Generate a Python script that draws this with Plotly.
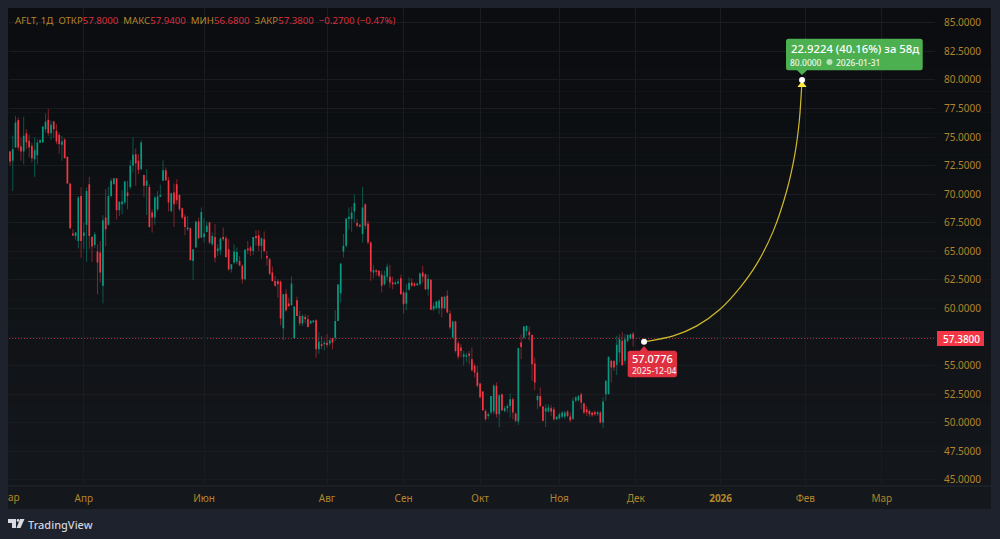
import plotly.graph_objects as go

directions = ("RGGRRGRRRG" "GGGGRGRRRG" "RRRRGGRGGR" "RGRRGRGGGR" "GGGRGGRRGR" "GRRGGGGRRG"
              "RRRRRGRGGR" "GGGRGRGGRR" "RGGGRRGRRG" "RRGRRRRRRR" "GRRGGRRGRR" "GGRGRGRGRG"
              "GGGGGGGRRG" "RRRGRRRGGR" "RGGRRGGRRG" "GRRGRGGGRG" "RRGRRRGGRR" "RRRRRGGGRG"
              "RGGGRRGRGG" "RRRGRRGGRR" "GGGGRRGGGR" "RRRRRGRGGG" "RRGGRGGGR")

highs = [73.79,75.11,76.86,76.71,74.96,76.77,75.69,75.25,74.52,74.96,
74.81,74.81,75.98,77.06,77.47,76.42,76.42,76.13,75.40,75.11,
74.90,73.27,70.93,66.94,66.70,69.85,70.64,67.52,70.58,71.52,
66.35,66.70,65.62,65.91,68.16,70.44,70.64,71.40,71.40,71.40,
69.36,70.35,71.17,71.17,72.98,74.96,74.00,73.50,74.73,71.69,
72.19,70.88,68.69,69.85,70.29,70.82,72.98,72.33,71.52,70.15,
70.93,71.31,70.00,68.83,68.25,68.10,67.08,65.18,67.61,67.96,
68.83,67.90,67.61,67.61,66.64,67.37,65.62,66.21,67.08,66.35,
66.06,63.87,65.62,65.33,64.60,63.87,65.18,65.91,65.48,66.26,
66.85,66.85,66.21,66.73,65.04,64.45,63.67,62.85,62.56,62.47,
61.25,61.68,60.95,62.79,60.17,61.04,59.79,59.50,59.50,59.44,
58.97,58.97,59.06,57.95,57.60,57.22,57.74,57.31,57.39,59.87,
62.15,63.94,66.51,67.88,68.84,68.90,69.95,67.82,67.38,70.65,
69.19,67.67,65.86,63.79,63.44,63.35,63.30,63.30,63.94,63.82,
62.77,62.42,62.57,62.95,61.55,62.13,62.71,62.65,62.27,62.27,
63.15,63.73,63.06,63.00,62.57,60.52,60.67,60.82,61.02,61.11,
61.60,59.85,58.92,58.92,57.17,56.88,56.29,56.15,56.29,56.58,
55.18,54.98,53.49,52.79,51.19,50.89,52.35,53.37,53.52,52.50,
52.56,51.48,51.62,52.56,52.21,50.89,56.58,57.75,58.48,58.48,
58.42,57.75,55.71,52.50,53.08,51.48,51.62,51.62,51.54,51.39,
50.60,50.89,51.04,51.04,51.10,50.89,52.21,52.35,52.44,52.65,
51.77,51.48,51.19,50.98,51.10,51.04,51.04,52.21,53.73,55.77,
55.48,55.42,57.61,57.75,57.96,57.75,57.75,57.81,57.94]

body_tops = [73.73,73.94,76.27,76.48,74.17,75.11,75.31,74.67,74.23,73.85,
74.52,74.73,75.89,76.33,76.51,76.07,76.36,75.54,75.19,74.61,
74.79,73.27,70.93,66.56,66.64,69.71,69.85,66.64,70.29,70.88,
66.26,66.50,64.98,64.89,67.72,67.96,69.85,71.17,71.40,71.40,
69.33,69.36,71.11,70.15,72.48,73.44,73.50,72.92,74.52,71.69,
71.17,70.64,68.39,69.71,69.80,69.94,72.10,72.10,71.22,70.09,
70.15,70.88,69.94,68.77,68.02,67.08,67.02,65.18,67.61,67.61,
68.45,66.56,67.23,67.52,66.35,66.26,65.24,66.12,66.26,66.15,
65.18,63.87,64.98,64.95,64.16,63.73,65.13,65.24,65.33,66.26,
66.35,66.41,66.15,66.06,64.60,64.31,63.14,62.41,62.41,62.35,
61.25,61.30,60.43,62.18,60.17,60.72,59.35,59.35,59.26,59.06,
58.91,58.94,58.97,57.10,56.87,57.01,57.01,57.22,57.39,58.91,
62.10,63.94,65.48,67.88,68.02,68.40,69.22,67.47,67.32,68.84,
69.13,67.44,65.78,63.35,63.35,63.30,62.95,62.86,63.65,62.77,
62.27,62.27,62.36,62.65,61.40,61.40,62.22,62.27,62.19,62.19,
63.06,63.15,63.00,62.57,62.51,60.23,60.61,60.67,61.02,61.02,
61.11,59.56,58.86,58.86,56.96,56.58,56.00,55.91,56.06,55.56,
54.98,54.40,53.43,52.73,51.04,50.75,52.35,53.23,53.23,52.41,
52.50,51.27,51.48,52.06,52.06,50.81,56.53,57.02,58.42,58.48,
57.96,57.69,55.18,52.35,52.35,51.42,51.27,51.33,51.27,51.19,
50.52,50.75,50.89,50.89,50.98,50.54,51.92,52.21,52.35,52.50,
51.68,51.19,51.04,50.87,50.92,50.92,50.89,51.86,53.67,55.77,
55.42,55.42,56.82,57.31,57.17,57.31,57.69,57.75,57.80]

body_bottoms = [72.86,72.92,74.09,74.09,73.73,73.73,74.52,74.09,73.15,73.06,
73.41,74.52,74.52,75.69,75.34,75.34,75.69,74.61,74.38,74.32,
73.15,70.93,67.02,66.38,66.35,65.91,65.91,66.35,67.32,66.35,
65.42,65.56,64.02,63.14,61.98,66.94,67.32,69.85,70.88,68.60,
68.60,69.12,69.27,69.85,70.64,72.48,72.68,72.13,72.19,70.73,
70.73,67.14,67.96,67.96,68.69,69.77,71.17,71.22,69.27,68.54,
69.12,69.47,68.69,67.96,67.14,66.94,64.22,64.16,65.33,66.15,
66.21,66.26,66.70,65.77,65.62,64.45,65.04,65.10,66.06,64.51,
63.43,63.43,64.02,64.08,63.78,62.56,62.56,65.10,65.04,65.04,
66.15,65.48,65.48,65.04,64.40,63.05,62.41,61.98,62.12,59.12,
58.27,59.84,60.22,60.31,57.39,59.35,58.68,58.68,59.06,58.39,
58.68,58.79,56.43,56.43,56.72,56.87,56.81,56.93,57.01,57.45,
58.91,61.34,64.99,65.48,67.82,67.82,68.49,67.24,67.18,66.51,
67.24,65.78,63.24,63.15,63.21,62.86,61.98,62.13,62.77,62.27,
62.13,62.13,62.19,61.25,60.38,60.44,61.63,61.98,61.98,62.04,
62.13,62.77,61.69,61.69,59.88,59.94,60.03,60.03,60.03,60.03,
59.65,58.34,57.46,56.29,55.77,56.29,55.77,55.77,55.86,54.60,
54.40,53.23,52.21,51.10,50.31,50.60,50.89,50.98,50.75,50.75,
51.10,51.04,51.27,51.48,50.89,50.17,50.11,56.64,57.46,58.04,
57.66,55.13,53.52,51.97,51.48,50.17,50.98,50.98,50.98,50.31,
50.31,50.37,50.52,50.52,50.60,50.22,50.31,51.92,51.97,51.77,
50.89,50.89,50.75,50.66,50.75,50.75,50.02,50.02,52.50,52.50,
54.83,54.83,55.07,56.15,55.04,55.42,57.17,57.37,57.38]

lows = [72.48,70.29,74.09,73.79,72.92,72.63,73.94,73.21,72.77,71.52,
72.63,74.46,74.52,75.40,75.11,74.76,74.96,74.38,73.56,72.92,
73.15,70.93,66.94,66.35,65.97,65.24,64.45,65.18,64.10,65.18,
64.10,65.27,61.25,62.27,60.43,65.42,67.23,69.71,70.88,67.81,
68.10,68.25,69.07,68.69,70.44,71.90,70.73,71.75,72.10,69.77,
68.19,67.08,66.64,67.32,68.54,69.77,71.17,71.17,68.48,68.39,
67.14,69.12,68.54,67.81,66.41,66.79,64.22,62.50,65.33,66.06,
66.15,65.77,66.64,65.62,65.48,64.02,64.60,64.69,65.91,64.45,
63.29,63.14,63.87,63.87,63.67,62.18,62.47,64.75,64.60,64.69,
65.48,65.04,64.31,64.89,63.73,62.94,62.35,61.89,60.95,58.53,
57.22,59.73,60.14,60.22,57.39,59.35,58.47,58.47,58.68,58.33,
58.62,58.76,55.70,56.05,56.43,56.34,56.58,56.72,56.43,57.16,
58.91,60.52,64.46,65.34,66.94,66.71,67.53,67.09,67.09,65.78,
66.94,65.63,62.42,62.65,62.86,62.71,61.40,61.98,62.42,61.84,
61.69,62.07,62.13,61.20,59.56,59.85,61.55,61.90,61.90,61.98,
61.98,62.27,61.60,61.11,59.85,59.79,59.94,59.50,59.21,59.94,
59.56,58.19,57.46,56.15,55.56,55.71,54.98,55.27,55.13,54.48,
53.96,53.08,52.21,51.04,50.17,50.31,50.75,50.75,50.46,49.58,
51.04,50.89,50.89,50.46,50.31,50.02,49.81,55.56,57.31,57.61,
57.17,53.67,52.85,51.19,51.33,50.11,49.64,50.89,50.60,50.17,
50.22,50.31,50.40,50.31,50.46,50.02,50.31,51.77,51.86,51.19,
50.75,50.60,50.52,50.52,50.60,50.60,49.93,49.52,51.92,52.50,
53.52,54.54,54.19,55.27,54.98,55.13,57.02,57.31,56.68]

forecast_bars = [232, 242.7, 251.3, 259.8, 267.1, 273.2, 279.3, 284.2, 287.2, 288.8, 289.8]
forecast_prices = [57.08, 57.60, 58.48, 59.94, 61.83, 63.88, 66.79, 70.30, 73.53, 76.42, 80.0]

time_tick_bars = [27, 71, 116, 144, 172, 201, 229, 260, 291, 319]
time_tick_labels = ["Апр", "Июн", "Авг", "Сен", "Окт", "Ноя", "Дек", "<b>2026</b>", "Фев", "Мар"]
price_ticks = [45, 47.5, 50, 52.5, 55, 57.5, 60, 62.5, 65, 67.5, 70, 72.5, 75, 77.5, 80, 82.5, 85]
last_price = 57.38

UP, DOWN = "#089981", "#f23645"
UP_W, DOWN_W = "rgba(8,153,129,0.5)", "rgba(242,54,69,0.5)"
GOLD = "#b2852b"
GRID = "#191c21"
FONT = "Noto Sans"

opens = [b if d == "G" else t for d, t, b in zip(directions, body_tops, body_bottoms)]
closes = [t if d == "G" else b for d, t, b in zip(directions, body_tops, body_bottoms)]
bars = list(range(len(directions)))

L, R, T, B = 9, 935, 8, 486
W, H = 1000, 539
def px(x): return (x - L) / (R - L)
def py(y): return (B - y) / (B - T)

fig = go.Figure()
fig.add_trace(go.Bar(x=bars, base=lows, y=[h - l for h, l in zip(highs, lows)], width=0.37,
                     marker=dict(color=[UP_W if d == "G" else DOWN_W for d in directions], line_width=0),
                     hoverinfo="skip"))
fig.add_trace(go.Candlestick(x=bars, open=opens, high=highs, low=lows, close=closes,
                             increasing=dict(fillcolor=UP, line=dict(color=UP, width=0)),
                             decreasing=dict(fillcolor=DOWN, line=dict(color=DOWN, width=0)),
                             hoverinfo="skip"))
fig.add_trace(go.Scatter(x=forecast_bars, y=forecast_prices, mode="lines",
                         line=dict(color="#d0ba2c", width=1.2, shape="spline", smoothing=0.8),
                         hoverinfo="skip"))
fig.add_trace(go.Scatter(x=forecast_bars[-1:], y=[forecast_prices[-1] - 0.45], mode="markers",
                         marker=dict(symbol="triangle-up", size=8, color="#ffeb3b"), hoverinfo="skip"))
fig.add_trace(go.Scatter(x=[forecast_bars[0], forecast_bars[-1]], y=[forecast_prices[0], forecast_prices[-1]],
                         mode="markers", marker=dict(size=6, color="white"), hoverinfo="skip"))

shapes = []
# panel with a faint vertical gradient
n = 24
for k in range(n):
    f = k / (n - 1)
    c = "rgb(%d,%d,%d)" % (11 + 9 * f, 13 + 10 * f, 16 + 11 * f)
    y0 = 8 + (509 - 8) * k / n
    y1 = 8 + (509 - 8) * (k + 1) / n
    shapes.append(dict(type="rect", xref="paper", yref="paper", x0=px(8), x1=px(991), y0=py(y0), y1=py(y1),
                       fillcolor=c, line_width=0, layer="below"))
shapes.append(dict(type="line", xref="paper", yref="paper", x0=px(8), x1=px(991), y0=py(486), y1=py(486),
                   line=dict(color="#242832", width=1), layer="below"))
shapes.append(dict(type="line", xref="paper", yref="y", x0=0, x1=1, y0=last_price, y1=last_price,
                   line=dict(color="rgba(242,54,69,0.7)", width=1, dash="1px,2px"), layer="below"))

def callout(x0, y0, x1, y1, tx, ty, color, r=2.5, top=False):
    pts = "M %f %f " % (px(x0 + r), py(y0))
    if top:
        pts += "L %f %f L %f %f L %f %f " % (px(tx - 4), py(y0), px(tx), py(ty), px(tx + 4), py(y0))
    pts += "L %f %f Q %f %f %f %f " % (px(x1 - r), py(y0), px(x1), py(y0), px(x1), py(y0 + r))
    pts += "L %f %f Q %f %f %f %f " % (px(x1), py(y1 - r), px(x1), py(y1), px(x1 - r), py(y1))
    if not top:
        pts += "L %f %f L %f %f L %f %f " % (px(tx + 5), py(y1), px(tx), py(ty), px(tx - 5), py(y1))
    pts += "L %f %f Q %f %f %f %f " % (px(x0 + r), py(y1), px(x0), py(y1), px(x0), py(y1 - r))
    pts += "L %f %f Q %f %f %f %f Z" % (px(x0), py(y0 + r), px(x0), py(y0), px(x0 + r), py(y0))
    return dict(type="path", xref="paper", yref="paper", path=pts, fillcolor=color, line_width=0, layer="above")

shapes.append(callout(786, 38.7, 922.7, 70.3, 802, 75, "#4caf50"))
shapes.append(callout(627.7, 350.7, 677, 377.3, 644, 346, "#e0303f", top=True))
shapes.append(dict(type="rect", xref="paper", yref="paper", x0=px(937), x1=px(984), y0=py(346), y1=py(331),
                   fillcolor="#f23645", line_width=0, layer="above"))
shapes.append(dict(type="circle", xref="paper", yref="paper", x0=px(826.5), x1=px(832.5), y0=py(65), y1=py(59),
                   fillcolor="#b9dfbb", line_width=0, layer="above"))
# TradingView mark
logo = ("M %f %f L %f %f L %f %f L %f %f L %f %f L %f %f Z " % (
            px(8), py(519), px(16), py(519), px(16), py(528), px(12), py(528), px(12), py(523), px(8), py(523))
        + "M %f %f L %f %f L %f %f L %f %f Z" % (
            px(20), py(519), px(24.5), py(519), px(20.5), py(528), px(16.5), py(528)))
shapes.append(dict(type="path", xref="paper", yref="paper", path=logo, fillcolor="#d9dbe0", line_width=0, layer="above"))
shapes.append(dict(type="circle", xref="paper", yref="paper", x0=px(16.6), x1=px(19.4), y0=py(521.8), y1=py(519),
                   fillcolor="#d9dbe0", line_width=0, layer="above"))

def text(x, y, s, size, color, anchor="left", weight=400):
    return dict(xref="paper", yref="paper", x=px(x), y=py(y), text=s, showarrow=False, xanchor=anchor, yanchor="middle",
                font=dict(size=size, color=color, family=FONT, weight=weight), borderpad=0, borderwidth=0)

G = "<span style='color:%s'>%%s</span>" % GOLD
D = "<span style='color:%s'>%%s</span>" % "#d6303f"
header = (G % "AFLT, 1Д  ОТКР" + D % "57.8000" + G % "  МАКС" + D % "57.9400" + G % "  МИН" + D % "56.6800"
          + G % "  ЗАКР" + D % "57.3800" + D % "  −0.2700 (−0.47%)")
annotations = [
    text(15, 20.5, header, 9.65, GOLD),
    text(13.5, 497, "ар", 10, GOLD, "center"),
    text(791, 48, "22.9224 (40.16%) за 58д", 11.3, "white", weight=500),
    text(790, 62, "80.0000", 8.5, "#eef7ee", weight=500),
    text(836, 62, "2026-01-31", 8.5, "#eef7ee", weight=500),
    text(632, 358.5, "57.0776", 11, "white", weight=500),
    text(632, 370, "2025-12-04", 8.5, "#f6e6e8", weight=500),
    text(961.5, 338.5, "57.3800", 10, "white", "center", weight=500),
    text(28, 524, "TradingView", 11, "#d1d4dc", weight=500),
]

fig.update_layout(
    width=W, height=H, showlegend=False, barmode="overlay", boxgap=0.12,
    margin=dict(l=L, r=W - R, t=T, b=H - B, pad=0),
    paper_bgcolor="#1e222d", plot_bgcolor="rgba(0,0,0,0)",
    shapes=shapes, annotations=annotations, hovermode=False,
    font=dict(family=FONT, color=GOLD, size=10),
    xaxis=dict(range=[-0.37, 338.45], rangeslider=dict(visible=False), tickmode="array",
               tickvals=time_tick_bars, ticktext=time_tick_labels, showgrid=True, gridcolor=GRID, gridwidth=1,
               zeroline=False, showline=False, ticks="outside", ticklen=3, tickcolor="rgba(0,0,0,0)",
               tickfont=dict(size=10, color=GOLD, family=FONT)),
    yaxis=dict(range=[44.47, 86.29], side="right", tickmode="array", tickvals=price_ticks,
               ticktext=["" if p == 57.5 else "%.4f" % p for p in price_ticks], showgrid=True, gridcolor=GRID, gridwidth=1,
               zeroline=False, showline=False, ticks="outside", ticklen=6, tickcolor="rgba(0,0,0,0)",
               tickfont=dict(size=10, color=GOLD, family=FONT)),
)
fig.write_html("out.html", config=dict(displayModeBar=False),
               post_script="document.body.style.margin='0';document.documentElement.style.background='#1e222d';document.body.style.overflow='hidden';")
